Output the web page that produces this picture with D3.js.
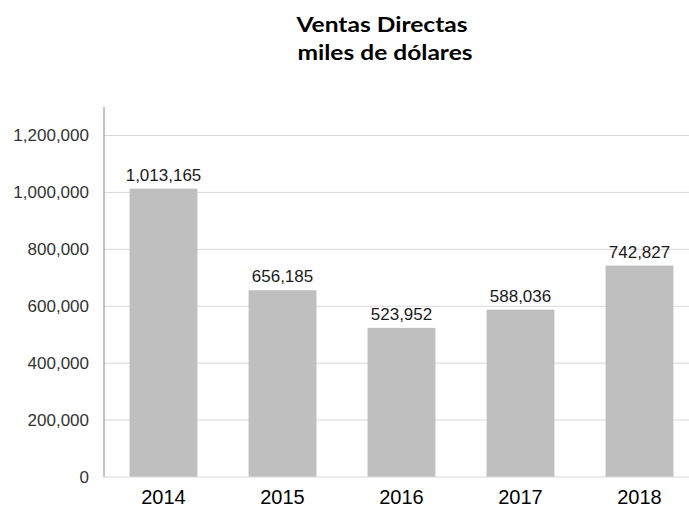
<!DOCTYPE html>
<html>
<head>
<meta charset="utf-8">
<script src="https://cdn.jsdelivr.net/npm/d3@7"></script>
<style>
  body { margin: 0; background: #fff; }
  .tick text { font-family: "Liberation Sans", Arial, sans-serif; }
</style>
</head>
<body>
<svg class="svg-chart" width="689" height="511"></svg>
<script>
const years = ['2014', '2015', '2016', '2017', '2018'];
const sales = [1013165, 656185, 523952, 588036, 742827];
const yTicks = [0, 200000, 400000, 600000, 800000, 1000000, 1200000];
const titleLines = ['Ventas Directas', 'miles de dólares'];

const svg = d3.select('.svg-chart');
const margin = { top: 107, right: 0, bottom: 34, left: 104 };
const height = +svg.attr('height') - margin.top - margin.bottom;
const fmt = d3.format(',');

const x = d3.scaleBand().domain(years).range([margin.left, 699]).paddingInner(0.43).paddingOuter(0.215);
const y = d3.scaleLinear().domain([0, 1300000]).range([margin.top + height, margin.top]);

// title, stretched a bit horizontally like the original
svg.append('g')
  .selectAll('text')
  .data(titleLines)
  .join('text')
  .attr('transform', (d, i) => `translate(${i ? 385 : 382},${i ? 60 : 32}) scale(1.17,1)`)
  .attr('text-anchor', 'middle')
  .style('font-family', 'Lato, "Open Sans", sans-serif')
  .style('font-weight', 'bold')
  .style('font-size', '21px')
  .text(d => d);

// gridlines
svg.append('g')
  .selectAll('line')
  .data(yTicks.slice(1))
  .join('line')
  .attr('x1', margin.left).attr('x2', 689)
  .attr('y1', d => y(d)).attr('y2', d => y(d))
  .attr('stroke', '#d9d9d9');

// bars
svg.append('g')
  .selectAll('rect')
  .data(sales)
  .join('rect')
  .attr('x', (d, i) => x(years[i]))
  .attr('width', x.bandwidth())
  .attr('y', d => y(d))
  .attr('height', d => y(0) - y(d))
  .attr('fill', '#bfbfbf');

// value labels
svg.append('g')
  .selectAll('text')
  .data(sales)
  .join('text')
  .attr('x', (d, i) => x(years[i]) + x.bandwidth() / 2)
  .attr('y', d => y(d) - 8)
  .attr('text-anchor', 'middle')
  .style('font-family', '"Liberation Sans", Arial, sans-serif')
  .style('font-size', '17px')
  .attr('fill', '#1a1a1a')
  .text(d => fmt(d));

// y axis
const yAxis = svg.append('g')
  .attr('transform', `translate(${margin.left},0)`)
  .call(d3.axisLeft(y).tickValues(yTicks).tickFormat(fmt).tickSize(0).tickPadding(15));
yAxis.select('.domain').attr('stroke', '#868686').attr('d', `M0,${margin.top}V${y(0)}`);
yAxis.selectAll('.tick text')
  .attr('fill', '#333')
  .style('font-size', '17px');

// x axis
const xAxis = svg.append('g')
  .attr('transform', `translate(0,${y(0)})`)
  .call(d3.axisBottom(x).tickSize(0).tickPadding(13));
xAxis.select('.domain').attr('stroke', '#d9d9d9').attr('d', `M${margin.left},0H689`);
xAxis.selectAll('.tick text')
  .attr('fill', '#000')
  .style('font-size', '20px');
</script>
</body>
</html>
